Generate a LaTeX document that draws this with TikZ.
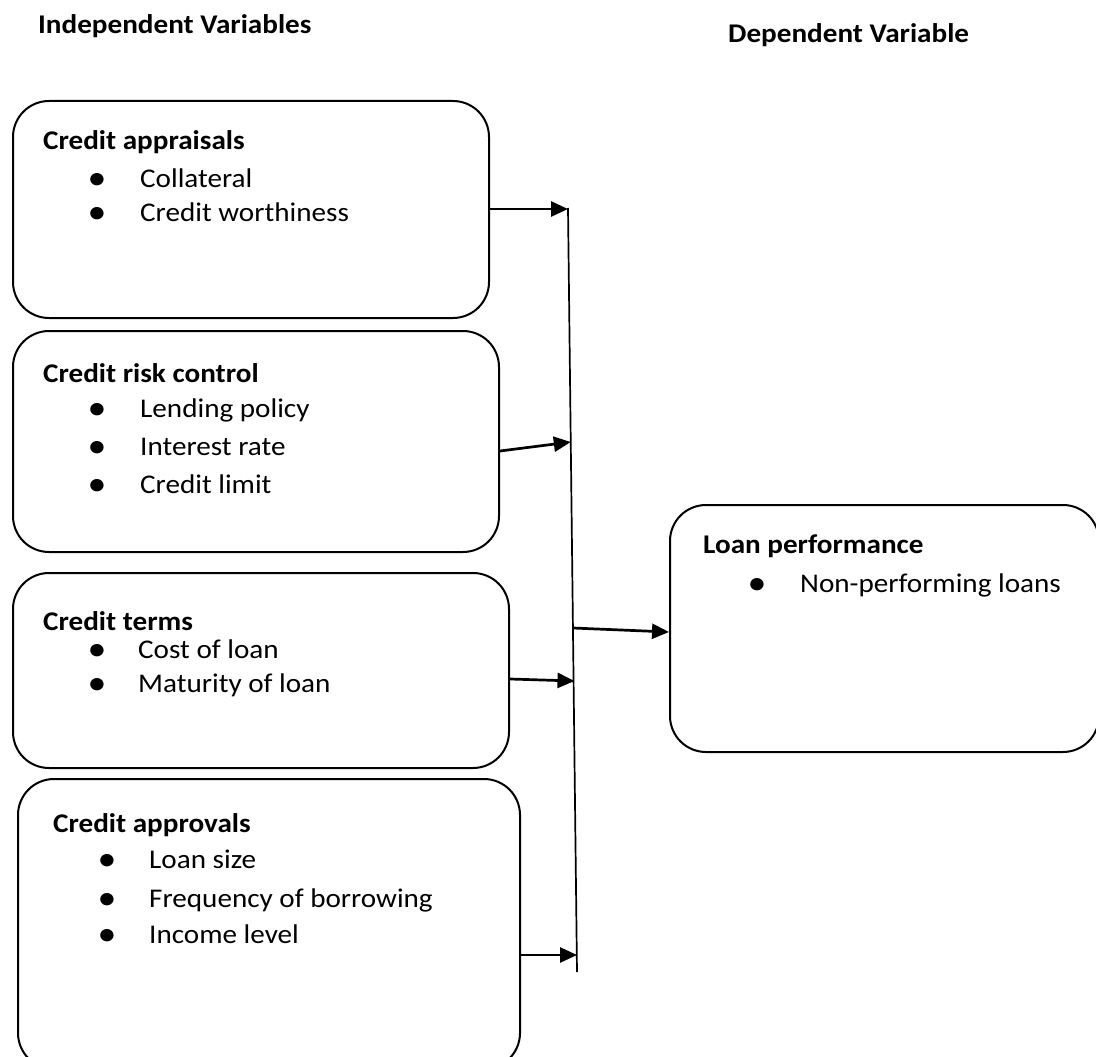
\documentclass[tikz,border=0pt]{standalone}
\usepackage{fontspec}
\setmainfont{Carlito}[FakeStretch=1.08]
\usetikzlibrary{arrows.meta,calc}
\begin{document}
\begin{tikzpicture}[x=1pt,y=-1pt,
  box/.style={draw, line width=2pt, rounded corners=36pt, rectangle, inner sep=0pt, anchor=north west},
  txt/.style={anchor=base west, inner sep=0pt, font=\fontsize{27}{33}\selectfont},
  hdr/.style={anchor=base west, inner sep=0pt, font=\fontsize{27}{33}\selectfont\bfseries},
  blt/.style={anchor=base, inner sep=0pt, yshift=-2pt, font=\fontsize{35}{40}\selectfont},
  arr/.style={line width=2.7pt, -{Triangle[length=17pt,width=15pt]}},
  vline/.style={line width=1.7pt}
  ]
\clip (0,0) rectangle (1096,1057);
% titles
\node[hdr] (tind) at (38,34) {Independent Variables};
\node[hdr] (tdep) at (728,43) {Dependent Variable};
% boxes
\node[box, minimum width=476pt, minimum height=217pt] (b1) at (12,100) {};
\node[box, minimum width=486pt, minimum height=221pt] (b2) at (12,330) {};
\node[box, minimum width=496pt, minimum height=195pt] (b3) at (12,572) {};
\node[box, minimum width=502pt, minimum height=290pt] (b4) at (17,778) {};
\node[box, minimum width=429pt, minimum height=247pt] (b5) at (669,504) {};
% box 1
\node[hdr] (h1) at (43,149) {Credit appraisals};
\node[blt] (p11) at (97,187) {•};
\node[txt] (i11) at (140,187) {Collateral};
\node[blt] (p12) at (97,221) {•};
\node[txt] (i12) at (140,221) {Credit worthiness};
% box 2
\node[hdr] (h2) at (43,382) {Credit risk control};
\node[blt] (p21) at (97,417) {•};
\node[txt] (i21) at (140,417) {Lending policy};
\node[blt] (p22) at (97,455) {•};
\node[txt] (i22) at (140,455) {Interest rate};
\node[blt] (p23) at (97,493) {•};
\node[txt] (i23) at (140,493) {Credit limit};
% box 3
\node[hdr] (h3) at (43,630) {Credit terms};
\node[blt] (p31) at (97,658) {•};
\node[txt] (i31) at (138,658) {Cost of loan};
\node[blt] (p32) at (97,692) {•};
\node[txt] (i32) at (138,692) {Maturity of loan};
% box 4
\node[hdr] (h4) at (53,832) {Credit approvals};
\node[blt] (p41) at (107,868) {•};
\node[txt] (i41) at (149,868) {Loan size};
\node[blt] (p42) at (107,907) {•};
\node[txt] (i42) at (149,907) {Frequency of borrowing};
\node[blt] (p43) at (107,943) {•};
\node[txt] (i43) at (149,943) {Income level};
% box 5
\node[hdr] (h5) at (703,553) {Loan performance};
\node[blt] (p51) at (757,592) {•};
\node[txt] (i51) at (800,592) {Non-performing loans};
% vertical collector line
\coordinate (vt) at (568,208);
\coordinate (vb) at (577,972);
\draw[vline] (vt) -- (vb);
% arrow endpoints
\coordinate (e1) at (568,209);
\coordinate (s2) at (500,451);
\coordinate (e2) at (570.8,442);
\coordinate (s3) at (573,628);
\coordinate (e4) at (574.5,681);
\coordinate (e5) at (577,955);
\draw[arr] (b1.east |- e1) -- (e1);
\draw[arr] (s2) -- (e2);
\draw[arr] (s3) -- (b5.west |- 0,632);
\draw[arr] (b3.east |- 0,679) -- (e4);
\draw[arr] (b4.east |- e5) -- (e5);
\end{tikzpicture}
\end{document}
